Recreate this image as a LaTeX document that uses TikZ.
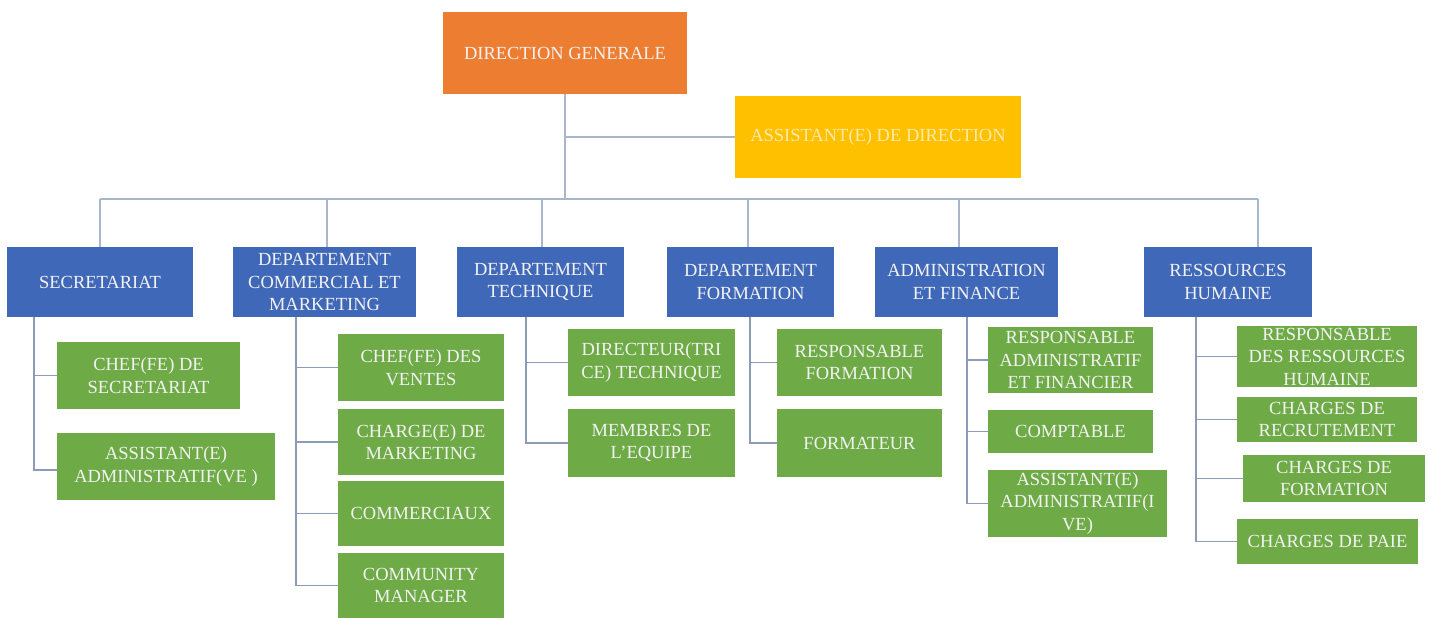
\documentclass[tikz,border=0pt]{standalone}
\usepackage{fontspec}
\setmainfont{Liberation Serif}
\definecolor{dgorange}{HTML}{ED7D31}
\definecolor{asyellow}{HTML}{FFC000}
\definecolor{depblue}{HTML}{4068B8}
\definecolor{jobgreen}{HTML}{6EAA46}
\definecolor{buscol}{HTML}{A9B5C9}
\definecolor{colcol}{HTML}{8E9BB6}
\definecolor{astext}{HTML}{FFE9A8}
\begin{document}
\begin{tikzpicture}[x=1pt,y=-1pt,
  box/.style={inner sep=0pt, outer sep=0pt, align=center, text=white!95!black,
    font=\fontsize{18.5}{22.5}\selectfont},
  topbox/.style={box, fill=dgorange},
  asbox/.style={box, fill=asyellow, text=astext},
  depbox/.style={box, fill=depblue, minimum height=70pt},
  jobbox/.style={box, fill=jobgreen},
  bus/.style={draw=buscol, line width=1.6pt},
  col/.style={draw=colcol, line width=1.4pt}]
\useasboundingbox (0,0) rectangle (1432,618);
\fill[white] (0,0) rectangle (1432,618);

% top level
\node[topbox, minimum width=244pt, minimum height=82pt] (dg) at (565,53) {DIRECTION GENERALE};
\node[asbox, minimum width=286pt, minimum height=82pt] (asst) at (878,137) {ASSISTANT(E) DE DIRECTION};

% departments
\node[depbox, minimum width=186pt] (sec) at (100,282) {SECRETARIAT};
\node[depbox, minimum width=183pt] (com) at (324.5,282) {DEPARTEMENT\\COMMERCIAL ET\\MARKETING};
\node[depbox, minimum width=167pt] (tec) at (540.5,282) {DEPARTEMENT\\TECHNIQUE};
\node[depbox, minimum width=167pt] (frm) at (750.5,282) {DEPARTEMENT\\FORMATION};
\node[depbox, minimum width=183pt] (adm) at (966.5,282) {ADMINISTRATION\\ET FINANCE};
\node[depbox, minimum width=168pt] (rh) at (1228,282) {RESSOURCES\\HUMAINE};

% jobs
\node[jobbox, minimum width=183pt, minimum height=67pt] (s1) at (148.5,375.5) {CHEF(FE) DE\\SECRETARIAT};
\node[jobbox, minimum width=218pt, minimum height=67pt] (s2) at (166,466.5) {ASSISTANT(E)\\ADMINISTRATIF(VE )};

\node[jobbox, minimum width=166pt, minimum height=67pt] (c1) at (421,367.5) {CHEF(FE) DES\\VENTES};
\node[jobbox, minimum width=166pt, minimum height=66pt] (c2) at (421,442) {CHARGE(E) DE\\MARKETING};
\node[jobbox, minimum width=166pt, minimum height=65pt] (c3) at (421,513.5) {COMMERCIAUX};
\node[jobbox, minimum width=166pt, minimum height=65pt] (c4) at (421,585.5) {COMMUNITY\\MANAGER};

\node[jobbox, minimum width=167pt, minimum height=67pt] (t1) at (651.5,362.5) {DIRECTEUR(TRI\\CE) TECHNIQUE};
\node[jobbox, minimum width=167pt, minimum height=68pt] (t2) at (651.5,443) {MEMBRES DE\\L'EQUIPE};

\node[jobbox, minimum width=165pt, minimum height=67pt] (f1) at (859.5,362.5) {RESPONSABLE\\FORMATION};
\node[jobbox, minimum width=165pt, minimum height=68pt] (f2) at (859.5,443) {FORMATEUR};

\node[jobbox, minimum width=165pt, minimum height=66pt] (a1) at (1070.5,360) {RESPONSABLE\\ADMINISTRATIF\\ET FINANCIER};
\node[jobbox, minimum width=165pt, minimum height=43pt] (a2) at (1070.5,431.5) {COMPTABLE};
\node[jobbox, minimum width=179pt, minimum height=67pt] (a3) at (1077.5,503.5) {ASSISTANT(E)\\ADMINISTRATIF(I\\VE)};

\node[jobbox, minimum width=180pt, minimum height=61pt] (r1) at (1327,356.5) {RESPONSABLE\\DES RESSOURCES\\HUMAINE};
\node[jobbox, minimum width=180pt, minimum height=45pt] (r2) at (1327,419.5) {CHARGES DE\\RECRUTEMENT};
\node[jobbox, minimum width=182pt, minimum height=47pt] (r3) at (1334,478.5) {CHARGES DE\\FORMATION};
\node[jobbox, minimum width=181pt, minimum height=45pt] (r4) at (1327.5,541.5) {CHARGES DE PAIE};

% bus coordinates
\coordinate (hub) at (565,199);
\coordinate (d1) at (100,199);
\coordinate (d2) at (327,199);
\coordinate (d3) at (542,199);
\coordinate (d4) at (748,199);
\coordinate (d5) at (959,199);
\coordinate (d6) at (1258,199);

% top connectors
\draw[bus] (dg.south) -- (hub);
\draw[bus] (dg.south |- asst.west) -- (asst.west);
\draw[bus] (d1) -- (d6);
\foreach \d/\n in {d1/sec,d2/com,d3/tec,d4/frm,d5/adm,d6/rh}
  \draw[bus] (\d) -- (\d |- \n.north);

% column spines
\coordinate (k1) at (34,317);
\coordinate (k2) at (296,317);
\coordinate (k3) at (526,317);
\coordinate (k4) at (750,317);
\coordinate (k5) at (967,317);
\coordinate (k6) at (1196,317);

\draw[col] (k1) -- (k1 |- 0,470) -- (s2.west |- 0,470);
\draw[col] (k1 |- s1.west) -- (s1.west);

\draw[col] (k2) -- (k2 |- c4.west) -- (c4.west);
\foreach \n in {c1,c2,c3} \draw[col] (k2 |- \n.west) -- (\n.west);

\draw[col] (k3) -- (k3 |- t2.west) -- (t2.west);
\draw[col] (k3 |- t1.west) -- (t1.west);

\draw[col] (k4) -- (k4 |- f2.west) -- (f2.west);
\draw[col] (k4 |- f1.west) -- (f1.west);

\draw[col] (k5) -- (k5 |- a3.west) -- (a3.west);
\foreach \n in {a1,a2} \draw[col] (k5 |- \n.west) -- (\n.west);

\draw[col] (k6) -- (k6 |- r4.west) -- (r4.west);
\foreach \n in {r1,r2,r3} \draw[col] (k6 |- \n.west) -- (\n.west);
\end{tikzpicture}
\end{document}
